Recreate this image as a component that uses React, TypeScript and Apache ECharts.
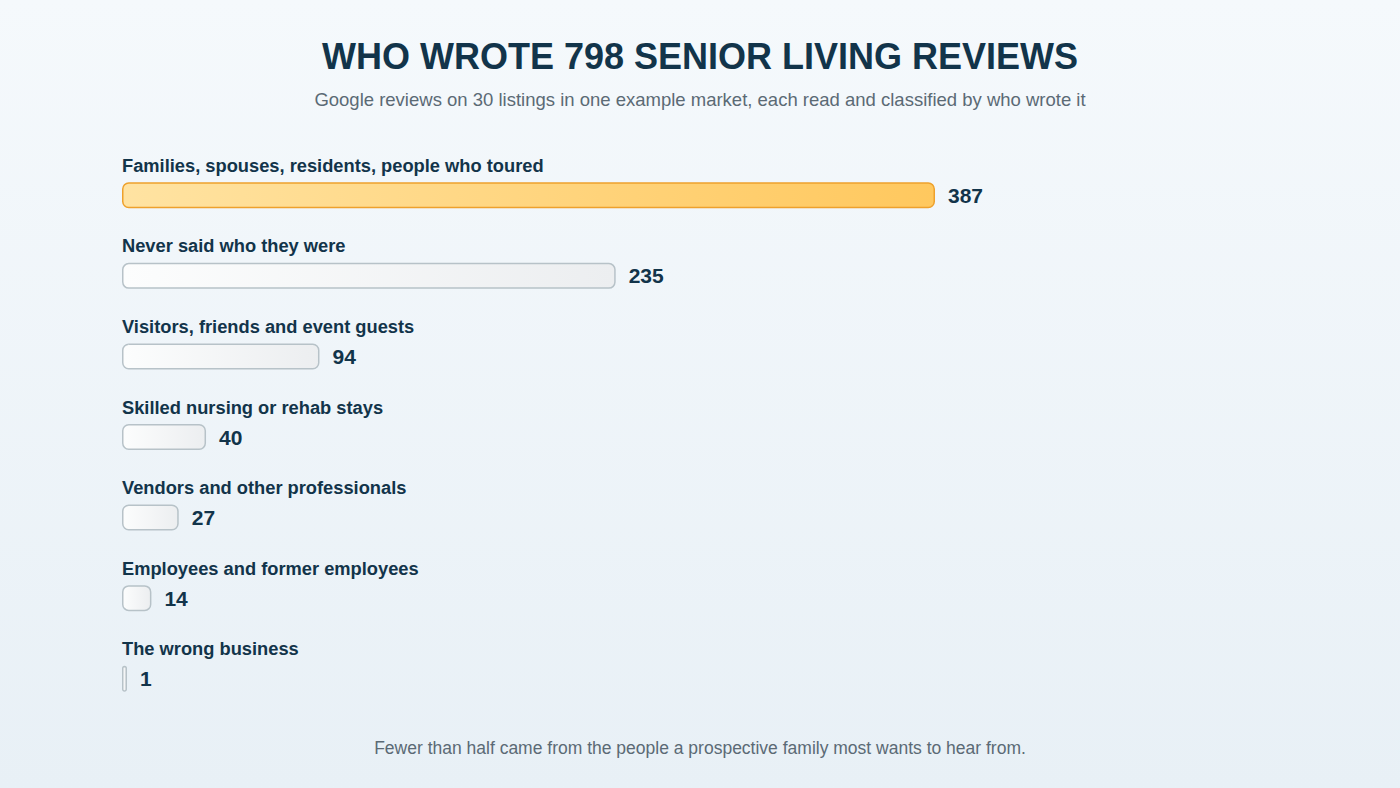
import { useEffect, useRef } from 'react';
import * as echarts from 'echarts';

const categories = [
  'Families, spouses, residents, people who toured',
  'Never said who they were',
  'Visitors, friends and event guests',
  'Skilled nursing or rehab stays',
  'Vendors and other professionals',
  'Employees and former employees',
  'The wrong business',
];
const reviewCounts = [387, 235, 94, 40, 27, 14, 1];

const TITLE = 'WHO WROTE 798 SENIOR LIVING REVIEWS';
const SUBTITLE = 'Google reviews on 30 listings in one example market, each read and classified by who wrote it';
const FOOTNOTE = 'Fewer than half came from the people a prospective family most wants to hear from.';

const FONT = '"Liberation Sans", Arial, Helvetica, sans-serif';
const INK = '#12344a';
const MUTED = '#5b6a75';

export default function App() {
  const chartRef = useRef<HTMLDivElement>(null);

  useEffect(() => {
    document.body.style.margin = '0';
    if (!chartRef.current) return;
    const chart = echarts.init(chartRef.current, null, { renderer: 'svg' });

    // 第一条高亮，其余为浅灰
    const highlightStyle = {
      color: new echarts.graphic.LinearGradient(0, 0, 1, 0, [
        { offset: 0, color: '#ffe3a2' },
        { offset: 1, color: '#ffc85e' },
      ]),
      borderColor: '#eea12c',
      borderWidth: 1.5,
      borderRadius: 6,
    };
    const plainStyle = {
      color: new echarts.graphic.LinearGradient(0, 0, 1, 0, [
        { offset: 0, color: '#fcfdfd' },
        { offset: 1, color: '#eceef0' },
      ]),
      borderColor: '#b7c2c8',
      borderWidth: 1.5,
      borderRadius: 6,
    };

    const option: echarts.EChartsOption = {
      animation: false,
      backgroundColor: 'transparent',
      textStyle: { fontFamily: FONT },
      title: [
        {
          text: TITLE,
          left: 'center',
          top: 33,
          textStyle: { fontFamily: FONT, fontSize: 36, fontWeight: 'bold', color: INK },
        },
        {
          text: SUBTITLE,
          left: 'center',
          top: 85,
          textStyle: { fontFamily: FONT, fontSize: 18.5, fontWeight: 'normal', color: MUTED },
        },
        {
          text: FOOTNOTE,
          left: 'center',
          top: 734,
          textStyle: { fontFamily: FONT, fontSize: 17.5, fontWeight: 'normal', color: MUTED },
        },
      ],
      grid: {
        left: 122,
        width: 1050.4,
        top: 155,
        height: 564,
      },
      xAxis: {
        type: 'value',
        min: 0,
        max: 500,
        show: false,
      },
      yAxis: {
        type: 'category',
        inverse: true,
        data: categories,
        axisLine: { show: false },
        axisTick: { show: false },
        splitLine: { show: false },
        axisLabel: {
          inside: true,
          margin: 0,
          align: 'left',
          verticalAlign: 'bottom',
          padding: [0, 0, 21, 0],
          fontFamily: FONT,
          fontSize: 18.3,
          fontWeight: 'bold',
          color: INK,
        },
      },
      series: [
        {
          type: 'bar',
          barWidth: 26,
          barMinHeight: 5,
          data: reviewCounts.map((v, i) => ({
            value: v,
            itemStyle: i === 0 ? highlightStyle : plainStyle,
          })),
          label: {
            show: true,
            position: 'right',
            distance: 13,
            fontFamily: FONT,
            fontSize: 21,
            fontWeight: 'bold',
            color: INK,
          },
        },
      ],
    };

    chart.setOption(option);
    return () => chart.dispose();
  }, []);

  return (
    <div
      style={{
        position: 'fixed',
        left: 0,
        top: 0,
        width: 1400,
        height: 788,
        background: 'linear-gradient(180deg, #f5f9fc 0%, #e8f0f6 100%)',
      }}
    >
      <div ref={chartRef} style={{ width: 1400, height: 788 }} />
    </div>
  );
}
